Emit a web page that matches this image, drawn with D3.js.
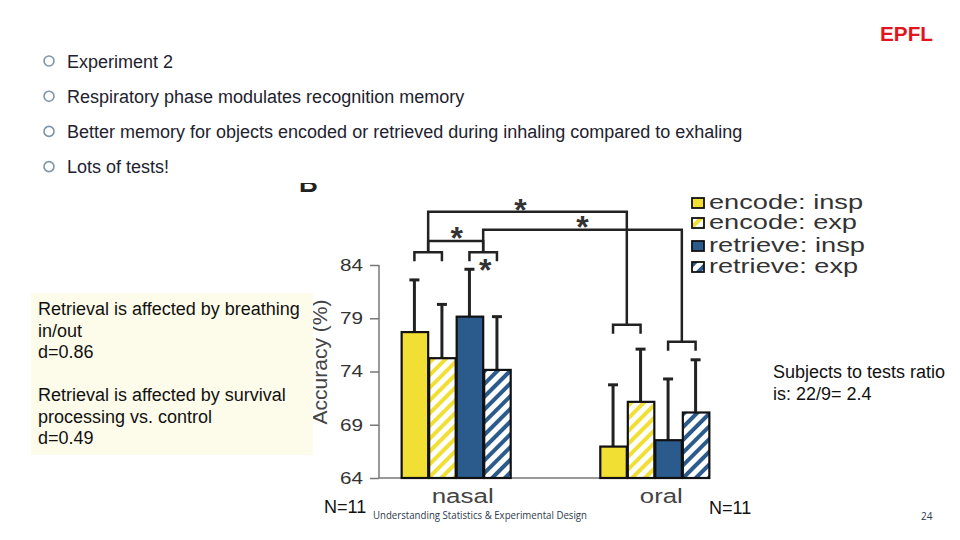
<!DOCTYPE html>
<html>
<head>
<meta charset="utf-8">
<script src="https://cdn.jsdelivr.net/npm/d3@7"></script>
<style>
  html, body { margin: 0; padding: 0; background: #ffffff; }
  svg { display: block; font-family: "Liberation Sans", Arial, sans-serif; }
</style>
</head>
<body>
<svg id="chart" width="960" height="540"></svg>
<script>
// ---------- data ----------
const groups = ["nasal", "oral"];
const conditions = ["encode: insp", "encode: exp", "retrieve: insp", "retrieve: exp"];
const meansNasal = [77.7, 75.25, 79.15, 74.15];
const meansOral = [66.95, 71.15, 67.55, 70.15];
const errNasal = [4.9, 5.05, 4.45, 5.0];
const errOral = [5.8, 4.95, 5.75, 4.95];
const yTicks = [64, 69, 74, 79, 84];
const bulletTexts = [
  "Experiment 2",
  "Respiratory phase modulates recognition memory",
  "Better memory for objects encoded or retrieved during inhaling compared to exhaling",
  "Lots of tests!"
];
const boxLines = [
  "Retrieval is affected by breathing", "in/out", "d=0.86", "",
  "Retrieval is affected by survival", "processing vs. control", "d=0.49"
];
const ratioLines = ["Subjects to tests ratio", "is: 22/9= 2.4"];
const sampleLabel = "N=11";
const footerText = "Understanding Statistics & Experimental Design";
const pageNumber = "24";
// significance brackets: pair of condition indices within a group, level in accuracy units
const brackets = [
  { group: "nasal", pair: [0, 1], level: 85.2 },
  { group: "nasal", pair: [2, 3], level: 85.2 },
  { group: "oral", pair: [0, 1], level: 78.4 },
  { group: "oral", pair: [2, 3], level: 76.8 }
];
// connectors: from bracket a to bracket b at level
const connectors = [
  { from: 0, to: 1, level: 86.25 },
  { from: 0, to: 2, level: 89.0 },
  { from: 1, to: 3, level: 87.3 }
];

// ---------- setup ----------
const svg = d3.select("#chart");
const yellow = "#f2df34";
const blue = "#2a5b8c";
const condColor = [yellow, yellow, blue, blue];
const condHatched = [false, true, false, true];

const defs = svg.append("defs");
function hatch(id, color) {
  const p = defs.append("pattern")
    .attr("id", id).attr("patternUnits", "userSpaceOnUse")
    .attr("width", 9).attr("height", 9)
    .attr("patternTransform", "rotate(45)");
  p.append("rect").attr("width", 9).attr("height", 9).attr("fill", "#ffffff");
  p.append("rect").attr("width", 4).attr("height", 9).attr("fill", color);
}
hatch("hatchY", yellow);
hatch("hatchB", blue);
function fillFor(i) {
  if (!condHatched[i]) return condColor[i];
  return i < 2 ? "url(#hatchY)" : "url(#hatchB)";
}
defs.append("clipPath").attr("id", "clipB")
  .append("rect").attr("x", 290).attr("y", 183).attr("width", 40).attr("height", 20);

// ---------- scales ----------
const y = d3.scaleLinear().domain([64, 84]).range([478, 265]);
const x0 = d3.scaleBand().domain(groups).range([379, 731]).paddingInner(0.446).paddingOuter(0.109);
const x1 = d3.scaleBand().domain(conditions).range([0, x0.bandwidth()]);
const barCenter = (g, i) => x0(g) + x1(conditions[i]) + x1.bandwidth() / 2;

const rows = [];
groups.forEach((g, gi) => {
  const m = gi === 0 ? meansNasal : meansOral;
  const e = gi === 0 ? errNasal : errOral;
  conditions.forEach((c, i) => rows.push({ g, c, i, mean: m[i], err: e[i] }));
});

// ---------- panel letter (clipped) ----------
svg.append("text").attr("clip-path", "url(#clipB)")
  .attr("x", 299).attr("y", 192).attr("font-size", 26).attr("font-weight", "bold")
  .attr("fill", "#222").text("B");

// ---------- y axis label (partly hidden behind box) ----------
svg.append("text")
  .attr("transform", "translate(327,362) rotate(-90)")
  .attr("text-anchor", "middle").attr("font-size", 21).attr("fill", "#444")
  .text("Accuracy (%)");

// ---------- y axis ----------
const yAxis = svg.append("g").attr("transform", "translate(379,0)")
  .call(d3.axisLeft(y).tickValues(yTicks).tickSize(9).tickPadding(7).tickFormat(d3.format("d")));
yAxis.select(".domain").attr("stroke", "#777").attr("stroke-width", 1.5).attr("d", `M0,${y(84)}V${y(64)}`);
yAxis.selectAll(".tick line").attr("stroke", "#777").attr("stroke-width", 1.5);
yAxis.selectAll(".tick text").attr("font-size", 17).attr("fill", "#333")
  .attr("font-family", "Liberation Sans, Arial, sans-serif")
  .attr("textLength", 23).attr("lengthAdjust", "spacingAndGlyphs");

// baseline
svg.append("line")
  .attr("x1", 379).attr("x2", x0("oral") + x0.bandwidth())
  .attr("y1", y(64)).attr("y2", y(64))
  .attr("stroke", "#777").attr("stroke-width", 1.5);

// ---------- error bars ----------
const eb = svg.append("g").attr("stroke", "#222").attr("stroke-width", 3);
eb.selectAll("line.v").data(rows).join("line").attr("class", "v")
  .attr("x1", d => barCenter(d.g, d.i)).attr("x2", d => barCenter(d.g, d.i))
  .attr("y1", d => y(d.mean)).attr("y2", d => y(d.mean + d.err));
eb.selectAll("line.cap").data(rows).join("line").attr("class", "cap")
  .attr("x1", d => barCenter(d.g, d.i) - 5).attr("x2", d => barCenter(d.g, d.i) + 5)
  .attr("y1", d => y(d.mean + d.err)).attr("y2", d => y(d.mean + d.err));

// ---------- bars ----------
svg.append("g").selectAll("rect").data(rows).join("rect")
  .attr("x", d => x0(d.g) + x1(d.c) + 1)
  .attr("y", d => y(d.mean))
  .attr("width", x1.bandwidth() - 1)
  .attr("height", d => y(64) - y(d.mean))
  .attr("fill", d => fillFor(d.i))
  .attr("stroke", "#111").attr("stroke-width", 2.2);

// ---------- x labels ----------
svg.append("g").selectAll("text").data(groups).join("text")
  .attr("x", g => x0(g) + x0.bandwidth() / 2 + 7)
  .attr("y", 503)
  .attr("text-anchor", "middle").attr("font-size", 20).attr("fill", "#444")
  .attr("textLength", (g, i) => i === 0 ? 62 : 43).attr("lengthAdjust", "spacingAndGlyphs")
  .text(g => g);

// ---------- significance brackets ----------
const sig = svg.append("g").attr("stroke", "#222").attr("stroke-width", 2.5).attr("fill", "none");
const bMid = b => (barCenter(b.group, b.pair[0]) + barCenter(b.group, b.pair[1])) / 2;
brackets.forEach(b => {
  const xa = barCenter(b.group, b.pair[0]), xb = barCenter(b.group, b.pair[1]);
  const yy = y(b.level);
  sig.append("path").attr("d", `M${xa},${yy + 9}V${yy}H${xb}V${yy + 9}`);
});
connectors.forEach(c => {
  const a = brackets[c.from], b = brackets[c.to];
  sig.append("path").attr("d",
    `M${bMid(a)},${y(a.level)}V${y(c.level)}H${bMid(b)}V${y(b.level)}`);
});
// stars
const stars = [
  { x: (bMid(brackets[0]) + bMid(brackets[2])) / 2 - 7, y: y(89.0) - 9 },
  { x: (bMid(brackets[1]) + bMid(brackets[3])) / 2, y: y(87.3) - 10 },
  { x: (bMid(brackets[0]) + bMid(brackets[1])) / 2 + 1, y: y(86.25) - 10 },
  { x: bMid(brackets[1]) + 2, y: y(85.2) + 11 }
];
svg.append("g").selectAll("text").data(stars).join("text")
  .attr("x", d => d.x).attr("y", d => d.y + 18)
  .attr("text-anchor", "middle").attr("font-size", 32).attr("font-weight", "bold")
  .attr("fill", "#333").text("*");

// ---------- legend ----------
const legendY = [203, 223, 246, 267];
const legendW = [154, 148, 156, 149];
const lg = svg.append("g");
conditions.forEach((c, i) => {
  lg.append("rect").attr("x", 692).attr("y", legendY[i] - 5).attr("width", 12).attr("height", 10)
    .attr("fill", fillFor(i)).attr("stroke", "#111").attr("stroke-width", 1.8);
  lg.append("text").attr("x", 709).attr("y", legendY[i] + 6)
    .attr("font-size", 19.5).attr("fill", "#333")
    .attr("textLength", legendW[i]).attr("lengthAdjust", "spacingAndGlyphs")
    .text(c);
});

// ---------- slide bullets ----------
const bl = svg.append("g");
bulletTexts.forEach((t, i) => {
  const cy = 61 + i * 35.2;
  bl.append("circle").attr("cx", 49).attr("cy", cy).attr("r", 5)
    .attr("fill", "none").attr("stroke", "#7e95a6").attr("stroke-width", 1.6);
  bl.append("text").attr("x", 67).attr("y", cy + 6.5)
    .attr("font-size", 18).attr("fill", "#22222e").text(t);
});

// ---------- cream text box ----------
svg.append("rect").attr("x", 31).attr("y", 293).attr("width", 282).attr("height", 162)
  .attr("fill", "#fdfbe9");
svg.append("g").selectAll("text").data(boxLines).join("text")
  .attr("x", 38).attr("y", (d, i) => 315 + i * 21.5)
  .attr("font-size", 18).attr("fill", "#111").text(d => d);

// ---------- ratio note ----------
svg.append("g").selectAll("text").data(ratioLines).join("text")
  .attr("x", 773).attr("y", (d, i) => 378 + i * 21.5)
  .attr("font-size", 18).attr("fill", "#111").text(d => d);

// ---------- N labels ----------
svg.append("text").attr("x", 324).attr("y", 513).attr("font-size", 18).attr("fill", "#111").text(sampleLabel);
svg.append("text").attr("x", 709).attr("y", 514).attr("font-size", 18).attr("fill", "#111").text(sampleLabel);

// ---------- footer ----------
svg.append("text").attr("x", 373).attr("y", 519).attr("font-size", 10)
  .attr("font-family", "Open Sans, sans-serif").attr("fill", "#2b3a4c")
  .attr("textLength", 214).attr("lengthAdjust", "spacingAndGlyphs").text(footerText);
svg.append("text").attr("x", 921).attr("y", 520).attr("font-size", 10)
  .attr("font-family", "Open Sans, sans-serif").attr("fill", "#2b3a4c").text(pageNumber);

// ---------- EPFL logo ----------
svg.append("text").attr("x", 880).attr("y", 41).attr("font-size", 21).attr("font-weight", "bold")
  .attr("fill", "#e2141c").attr("textLength", 53).attr("lengthAdjust", "spacingAndGlyphs")
  .text("EPFL");
</script>
</body>
</html>
